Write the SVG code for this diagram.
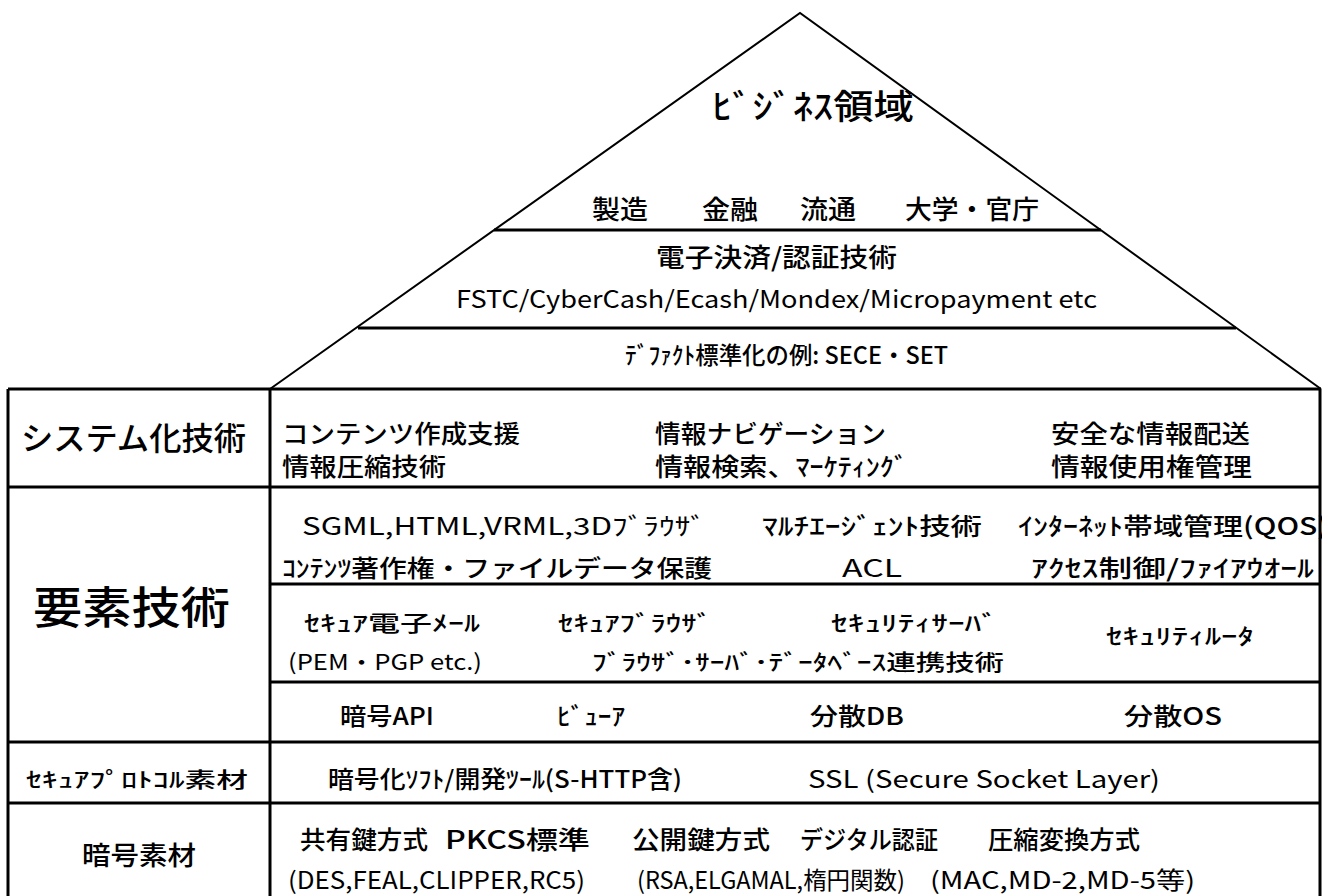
<svg xmlns="http://www.w3.org/2000/svg" width="1322" height="896" viewBox="0 0 1322 896">
<style>
.t{font-family:"Noto Sans CJK JP","Noto Sans",sans-serif;font-weight:500;fill:#000;dominant-baseline:central}
.l{font-weight:400}
.tbl{stroke:#000;stroke-width:3;fill:none}
.tri{stroke:#000;stroke-width:2;fill:none}
.band{stroke:#000;stroke-width:3;fill:none}
</style>
<rect width="1322" height="896" fill="#fff"/>
<g id="connectors">
<polyline class="tri" points="270,389 800,13 1321,389"/>
<line class="band" x1="494" y1="230" x2="1101" y2="230"/>
<line class="band" x1="358" y1="328" x2="1236" y2="328"/>
<line class="tbl" x1="8" y1="389" x2="1321" y2="389"/>
<line class="tbl" x1="8" y1="389" x2="8" y2="896"/>
<line class="tbl" x1="270" y1="389" x2="270" y2="896"/>
<line class="tbl" x1="1320" y1="389" x2="1320" y2="896"/>
<line class="tbl" x1="8" y1="487" x2="1321" y2="487"/>
<line class="tbl" x1="270" y1="584" x2="1321" y2="584"/>
<line class="tbl" x1="270" y1="682" x2="1321" y2="682"/>
<line class="tbl" x1="8" y1="742" x2="1321" y2="742"/>
<line class="tbl" x1="8" y1="803" x2="1321" y2="803"/>
</g>
<g id="business">
<text class="t" x="712" y="104" font-size="34" textLength="202" lengthAdjust="spacingAndGlyphs">ﾋﾞｼﾞﾈｽ領域</text>
<text class="t" x="592" y="207" font-size="26" textLength="56" lengthAdjust="spacingAndGlyphs">製造</text>
<text class="t" x="702" y="207" font-size="26" textLength="56" lengthAdjust="spacingAndGlyphs">金融</text>
<text class="t" x="800" y="207" font-size="26" textLength="56" lengthAdjust="spacingAndGlyphs">流通</text>
<text class="t" x="905" y="207" font-size="26" textLength="134" lengthAdjust="spacingAndGlyphs">大学・官庁</text>
</g>
<g id="payment">
<text class="t" x="656" y="255" font-size="26" textLength="241" lengthAdjust="spacingAndGlyphs">電子決済/認証技術</text>
<text class="t l" x="456" y="297" font-size="24" textLength="641" lengthAdjust="spacingAndGlyphs">FSTC/CyberCash/Ecash/Mondex/Micropayment etc</text>
</g>
<g id="defacto">
<text class="t" x="625" y="353" font-size="24" textLength="323" lengthAdjust="spacingAndGlyphs">ﾃﾞﾌｧｸﾄ標準化の例:  SECE・SET</text>
</g>
<g id="system">
<text class="t" x="21" y="436" font-size="32" textLength="225" lengthAdjust="spacingAndGlyphs">システム化技術</text>
<text class="t" x="282" y="432" font-size="25" textLength="238" lengthAdjust="spacingAndGlyphs">コンテンツ作成支援</text>
<text class="t" x="282" y="465" font-size="25" textLength="164" lengthAdjust="spacingAndGlyphs">情報圧縮技術</text>
<text class="t" x="655" y="432" font-size="25" textLength="231" lengthAdjust="spacingAndGlyphs">情報ナビゲーション</text>
<text class="t" x="655" y="465" font-size="25" textLength="253" lengthAdjust="spacingAndGlyphs">情報検索、ﾏｰｹﾃｨﾝｸﾞ</text>
<text class="t" x="1051" y="432" font-size="25" textLength="199" lengthAdjust="spacingAndGlyphs">安全な情報配送</text>
<text class="t" x="1051" y="465" font-size="25" textLength="201" lengthAdjust="spacingAndGlyphs">情報使用権管理</text>
</g>
<g id="element">
<text class="t" x="33" y="605" font-size="44" textLength="197" lengthAdjust="spacingAndGlyphs">要素技術</text>
<text class="t l" x="302" y="524" font-size="24" textLength="404" lengthAdjust="spacingAndGlyphs">SGML,HTML,VRML,3Dﾌﾞﾗｳｻﾞ</text>
<text class="t" x="282" y="566" font-size="24" textLength="430" lengthAdjust="spacingAndGlyphs">ｺﾝﾃﾝﾂ著作権・ファイルデータ保護</text>
<text class="t" x="762" y="524" font-size="24" textLength="220" lengthAdjust="spacingAndGlyphs">ﾏﾙﾁｴｰｼﾞｪﾝﾄ技術</text>
<text class="t" x="1018" y="524" font-size="24" textLength="310" lengthAdjust="spacingAndGlyphs">ｲﾝﾀｰﾈｯﾄ帯域管理(QOS)</text>
<text class="t l" x="842" y="566" font-size="24" textLength="60" lengthAdjust="spacingAndGlyphs">ACL</text>
<text class="t" x="1031" y="566" font-size="24" textLength="283" lengthAdjust="spacingAndGlyphs">ｱｸｾｽ制御/ﾌｧｲｱｳｵｰﾙ</text>
<text class="t" x="304" y="621" font-size="22" textLength="176" lengthAdjust="spacingAndGlyphs">ｾｷｭｱ電子ﾒｰﾙ</text>
<text class="t l" x="288" y="660" font-size="22" textLength="194" lengthAdjust="spacingAndGlyphs">(PEM・PGP etc.)</text>
<text class="t" x="558" y="621" font-size="22" textLength="154" lengthAdjust="spacingAndGlyphs">ｾｷｭｱﾌﾞﾗｳｻﾞ</text>
<text class="t" x="831" y="621" font-size="22" textLength="167" lengthAdjust="spacingAndGlyphs">ｾｷｭﾘﾃｨｻｰﾊﾞ</text>
<text class="t" x="592" y="660" font-size="22" textLength="412" lengthAdjust="spacingAndGlyphs">ﾌﾞﾗｳｻﾞ･ｻｰﾊﾞ･ﾃﾞｰﾀﾍﾞｰｽ連携技術</text>
<text class="t" x="1106" y="634" font-size="22" textLength="148" lengthAdjust="spacingAndGlyphs">ｾｷｭﾘﾃｨﾙｰﾀ</text>
<text class="t" x="340" y="714" font-size="24" textLength="94" lengthAdjust="spacingAndGlyphs">暗号API</text>
<text class="t" x="557" y="714" font-size="24" textLength="68" lengthAdjust="spacingAndGlyphs">ﾋﾞｭｰｱ</text>
<text class="t" x="810" y="714" font-size="24" textLength="94" lengthAdjust="spacingAndGlyphs">分散DB</text>
<text class="t" x="1124" y="714" font-size="24" textLength="98" lengthAdjust="spacingAndGlyphs">分散OS</text>
</g>
<g id="protocol">
<text class="t" x="26" y="778" font-size="21" textLength="222" lengthAdjust="spacingAndGlyphs">ｾｷｭｱﾌﾟﾛﾄｺﾙ素材</text>
<text class="t" x="328" y="777" font-size="24" textLength="354" lengthAdjust="spacingAndGlyphs">暗号化ｿﾌﾄ/開発ﾂｰﾙ(S-HTTP含)</text>
<text class="t l" x="808" y="777" font-size="24" textLength="352" lengthAdjust="spacingAndGlyphs">SSL (Secure Socket Layer)</text>
</g>
<g id="crypto">
<text class="t" x="82" y="853" font-size="26" textLength="114" lengthAdjust="spacingAndGlyphs">暗号素材</text>
<text class="t" x="300" y="838" font-size="25" textLength="128" lengthAdjust="spacingAndGlyphs">共有鍵方式</text>
<text class="t" x="445" y="838" font-size="25" textLength="145" lengthAdjust="spacingAndGlyphs">PKCS標準</text>
<text class="t" x="632" y="838" font-size="25" textLength="138" lengthAdjust="spacingAndGlyphs">公開鍵方式</text>
<text class="t" x="800" y="838" font-size="25" textLength="138" lengthAdjust="spacingAndGlyphs">デジタル認証</text>
<text class="t" x="988" y="838" font-size="25" textLength="152" lengthAdjust="spacingAndGlyphs">圧縮変換方式</text>
<text class="t l" x="288" y="878" font-size="24" textLength="297" lengthAdjust="spacingAndGlyphs">(DES,FEAL,CLIPPER,RC5)</text>
<text class="t l" x="637" y="878" font-size="24" textLength="268" lengthAdjust="spacingAndGlyphs">(RSA,ELGAMAL,楕円関数)</text>
<text class="t l" x="930" y="878" font-size="24" textLength="265" lengthAdjust="spacingAndGlyphs">(MAC,MD-2,MD-5等)</text>
</g>
</svg>
